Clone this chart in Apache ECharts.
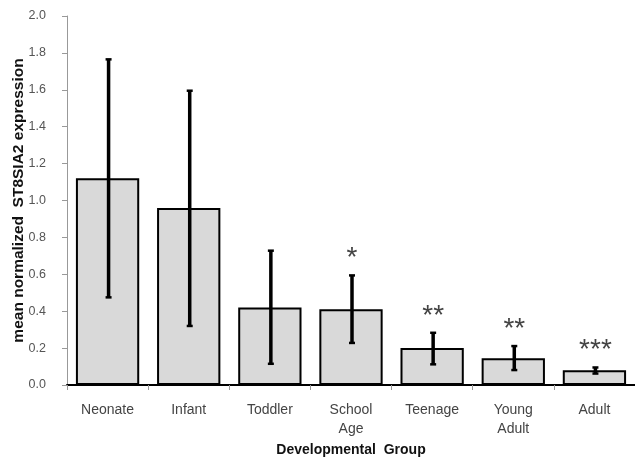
<!DOCTYPE html>
<html>
<head>
<meta charset="utf-8">
<script src="https://cdn.jsdelivr.net/npm/echarts@6/dist/echarts.min.js"></script>
<style>
  html, body { margin: 0; padding: 0; background: #fff; }
  #chart { width: 635px; height: 459px; }
</style>
</head>
<body>
<div id="chart"></div>
<script>
const categories = ['Neonate', 'Infant', 'Toddler', 'School\nAge', 'Teenage', 'Young\nAdult', 'Adult'];
const means = [1.12, 0.96, 0.42, 0.41, 0.20, 0.145, 0.08];
const errLow = [0.475, 0.32, 0.115, 0.228, 0.112, 0.081, 0.062];
const errHigh = [1.765, 1.595, 0.728, 0.594, 0.283, 0.211, 0.095];
const significance = ['', '', '', '*', '**', '**', '***'];
const yTicks = { min: 0, max: 2, interval: 0.2 };

const chart = echarts.init(document.getElementById('chart'));
const errData = categories.map((c, i) => [i, errLow[i], errHigh[i], significance[i]]);

chart.setOption({
  animation: false,
  grid: { left: 67, right: 0, top: 16, bottom: 74, outerBoundsMode: 'none', containLabel: false },
  xAxis: {
    type: 'category',
    data: categories,
    name: 'Developmental  Group',
    nameLocation: 'middle',
    nameGap: 58,
    nameMoveOverlap: false,
    nameTextStyle: { fontFamily: 'Liberation Sans', fontWeight: 'bold', fontSize: 14, color: '#111' },
    axisLine: { lineStyle: { color: '#000', width: 2 } },
    axisTick: { show: true, length: 5, lineStyle: { color: '#999', width: 1 } },
    axisLabel: { fontFamily: 'Liberation Sans', fontSize: 14, color: '#444', margin: 16, lineHeight: 19 }
  },
  yAxis: {
    type: 'value',
    min: yTicks.min, max: yTicks.max, interval: yTicks.interval,
    name: 'mean normalized  ST8SIA2 expression',
    nameLocation: 'middle',
    nameGap: 40,
    nameMoveOverlap: false,
    nameTextStyle: { fontFamily: 'Liberation Sans', fontWeight: 'bold', fontSize: 15.5, color: '#111' },
    axisLine: { show: true, lineStyle: { color: '#999', width: 1 } },
    axisTick: { show: true, length: 5, lineStyle: { color: '#999' } },
    splitLine: { show: false },
    axisLabel: {
      fontFamily: 'Liberation Sans', fontSize: 12.5, color: '#555', margin: 21,
      formatter: v => v.toFixed(1)
    }
  },
  series: [
    {
      type: 'bar',
      data: means,
      barWidth: '78%',
      itemStyle: { color: '#d9d9d9', borderColor: '#000', borderWidth: 2 }
    },
    {
      type: 'custom',
      data: errData,
      z: 10,
      renderItem: function (params, api) {
        const x = api.value(0);
        const lo = api.coord([x, api.value(1)]);
        const hi = api.coord([x, api.value(2)]);
        const cx = lo[0] + 1;
        const cap = 3;
        const style = { stroke: '#000', lineWidth: 3.5 };
        const children = [
          { type: 'line', shape: { x1: cx, y1: hi[1], x2: cx, y2: lo[1] }, style: style },
          { type: 'line', shape: { x1: cx - cap, y1: hi[1], x2: cx + cap, y2: hi[1] }, style: { stroke: '#000', lineWidth: 2.5 } },
          { type: 'line', shape: { x1: cx - cap, y1: lo[1], x2: cx + cap, y2: lo[1] }, style: { stroke: '#000', lineWidth: 2.5 } }
        ];
        const sig = api.value(3);
        if (sig) {
          children.push({
            type: 'text',
            style: {
              text: sig, x: cx, y: hi[1] - 17,
              align: 'center', verticalAlign: 'middle',
              fontFamily: 'Liberation Sans', fontSize: 28, fill: '#444'
            }
          });
        }
        return { type: 'group', children: children };
      }
    }
  ]
});
</script>
</body>
</html>
